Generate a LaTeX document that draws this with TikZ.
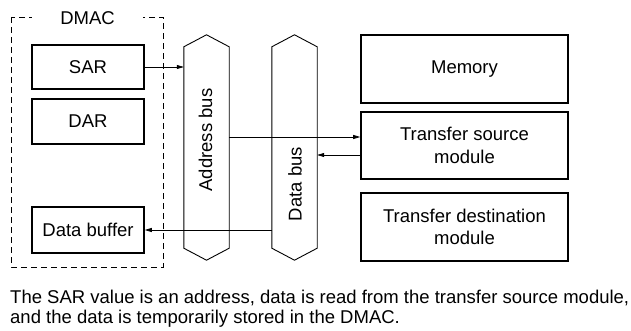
\documentclass[tikz,border=0pt]{standalone}
\usepackage{fontspec}
\setmainfont{Liberation Sans}
\usetikzlibrary{arrows.meta,positioning,calc}

\begin{document}
\begin{tikzpicture}[x=1pt,y=-1pt,>={Triangle[length=7pt,width=4pt]},
  box/.style={draw,line width=1.6pt,inner sep=0pt,align=center,font=\fontsize{18.5}{22.5}\selectfont},
  bus/.style={inner sep=0pt,minimum width=45pt,minimum height=201pt},
  busline/.style={line width=0.9pt,line join=miter},
  conn/.style={->,line width=0.7pt}]
  \useasboundingbox (0,0) rectangle (631,331);
  % DMAC frame
  \draw[line width=0.8pt,dash pattern=on 6pt off 4pt] (11,17) rectangle (163,267);
  \node[fill=white,minimum width=111pt,inner sep=1pt,font=\fontsize{18.5}{22}\selectfont] (dmac) at (87.5,18) {DMAC};
  \node[box,minimum width=112pt,minimum height=44pt] (sar) at (88,67) {SAR};
  \node[box,minimum width=112pt,minimum height=45pt] (dar) at (88,121.5) {DAR};
  \node[box,minimum width=112pt,minimum height=46pt] (buf) at (88,230) {Data buffer};
  % buses
  \node[bus] (abus) at (206.5,147.5) {};
  \node[bus] (dbus) at (294.5,147.5) {};
  \foreach \b in {abus,dbus}
    \draw[busline] (\b.north west) -- ([yshift=12pt]\b.north) -- (\b.north east)
      -- (\b.south east) -- ([yshift=-12pt]\b.south) -- (\b.south west) -- cycle;
  \node[rotate=90,font=\fontsize{18.5}{22}\selectfont] (alabel) at (205.5,140) {Address bus};
  \node[rotate=90,font=\fontsize{18.5}{22}\selectfont] (dlabel) at (295,184) {Data bus};
  % modules
  \node[box,minimum width=207pt,minimum height=68pt] (mem) at (464.5,69) {Memory};
  \node[box,minimum width=207pt,minimum height=67pt] (src) at (464.5,145.5) {Transfer source\\module};
  \node[box,minimum width=207pt,minimum height=68pt] (dst) at (464.5,227) {Transfer destination\\module};
  % connectors
  \draw[conn] (sar.east) -- (sar.east -| abus.west);
  \draw[conn] ([yshift=8.5pt]src.west -| abus.east) -- ([yshift=8.5pt]src.west);
  \draw[conn] ([yshift=-9.5pt]src.west) -- ([yshift=-9.5pt]src.west -| dbus.east);
  \draw[conn] (dbus.west |- buf.east) -- (buf.east);
  % caption
  \node[anchor=base west,inner sep=0pt,font=\fontsize{18.5}{21}\selectfont] (cap1) at (10,303)
    {The SAR value is an address, data is read from the transfer source module,};
  \node[anchor=base west,inner sep=0pt,font=\fontsize{18.5}{21}\selectfont] (cap2) at (10,323)
    {and the data is temporarily stored in the DMAC.};
\end{tikzpicture}
\end{document}
